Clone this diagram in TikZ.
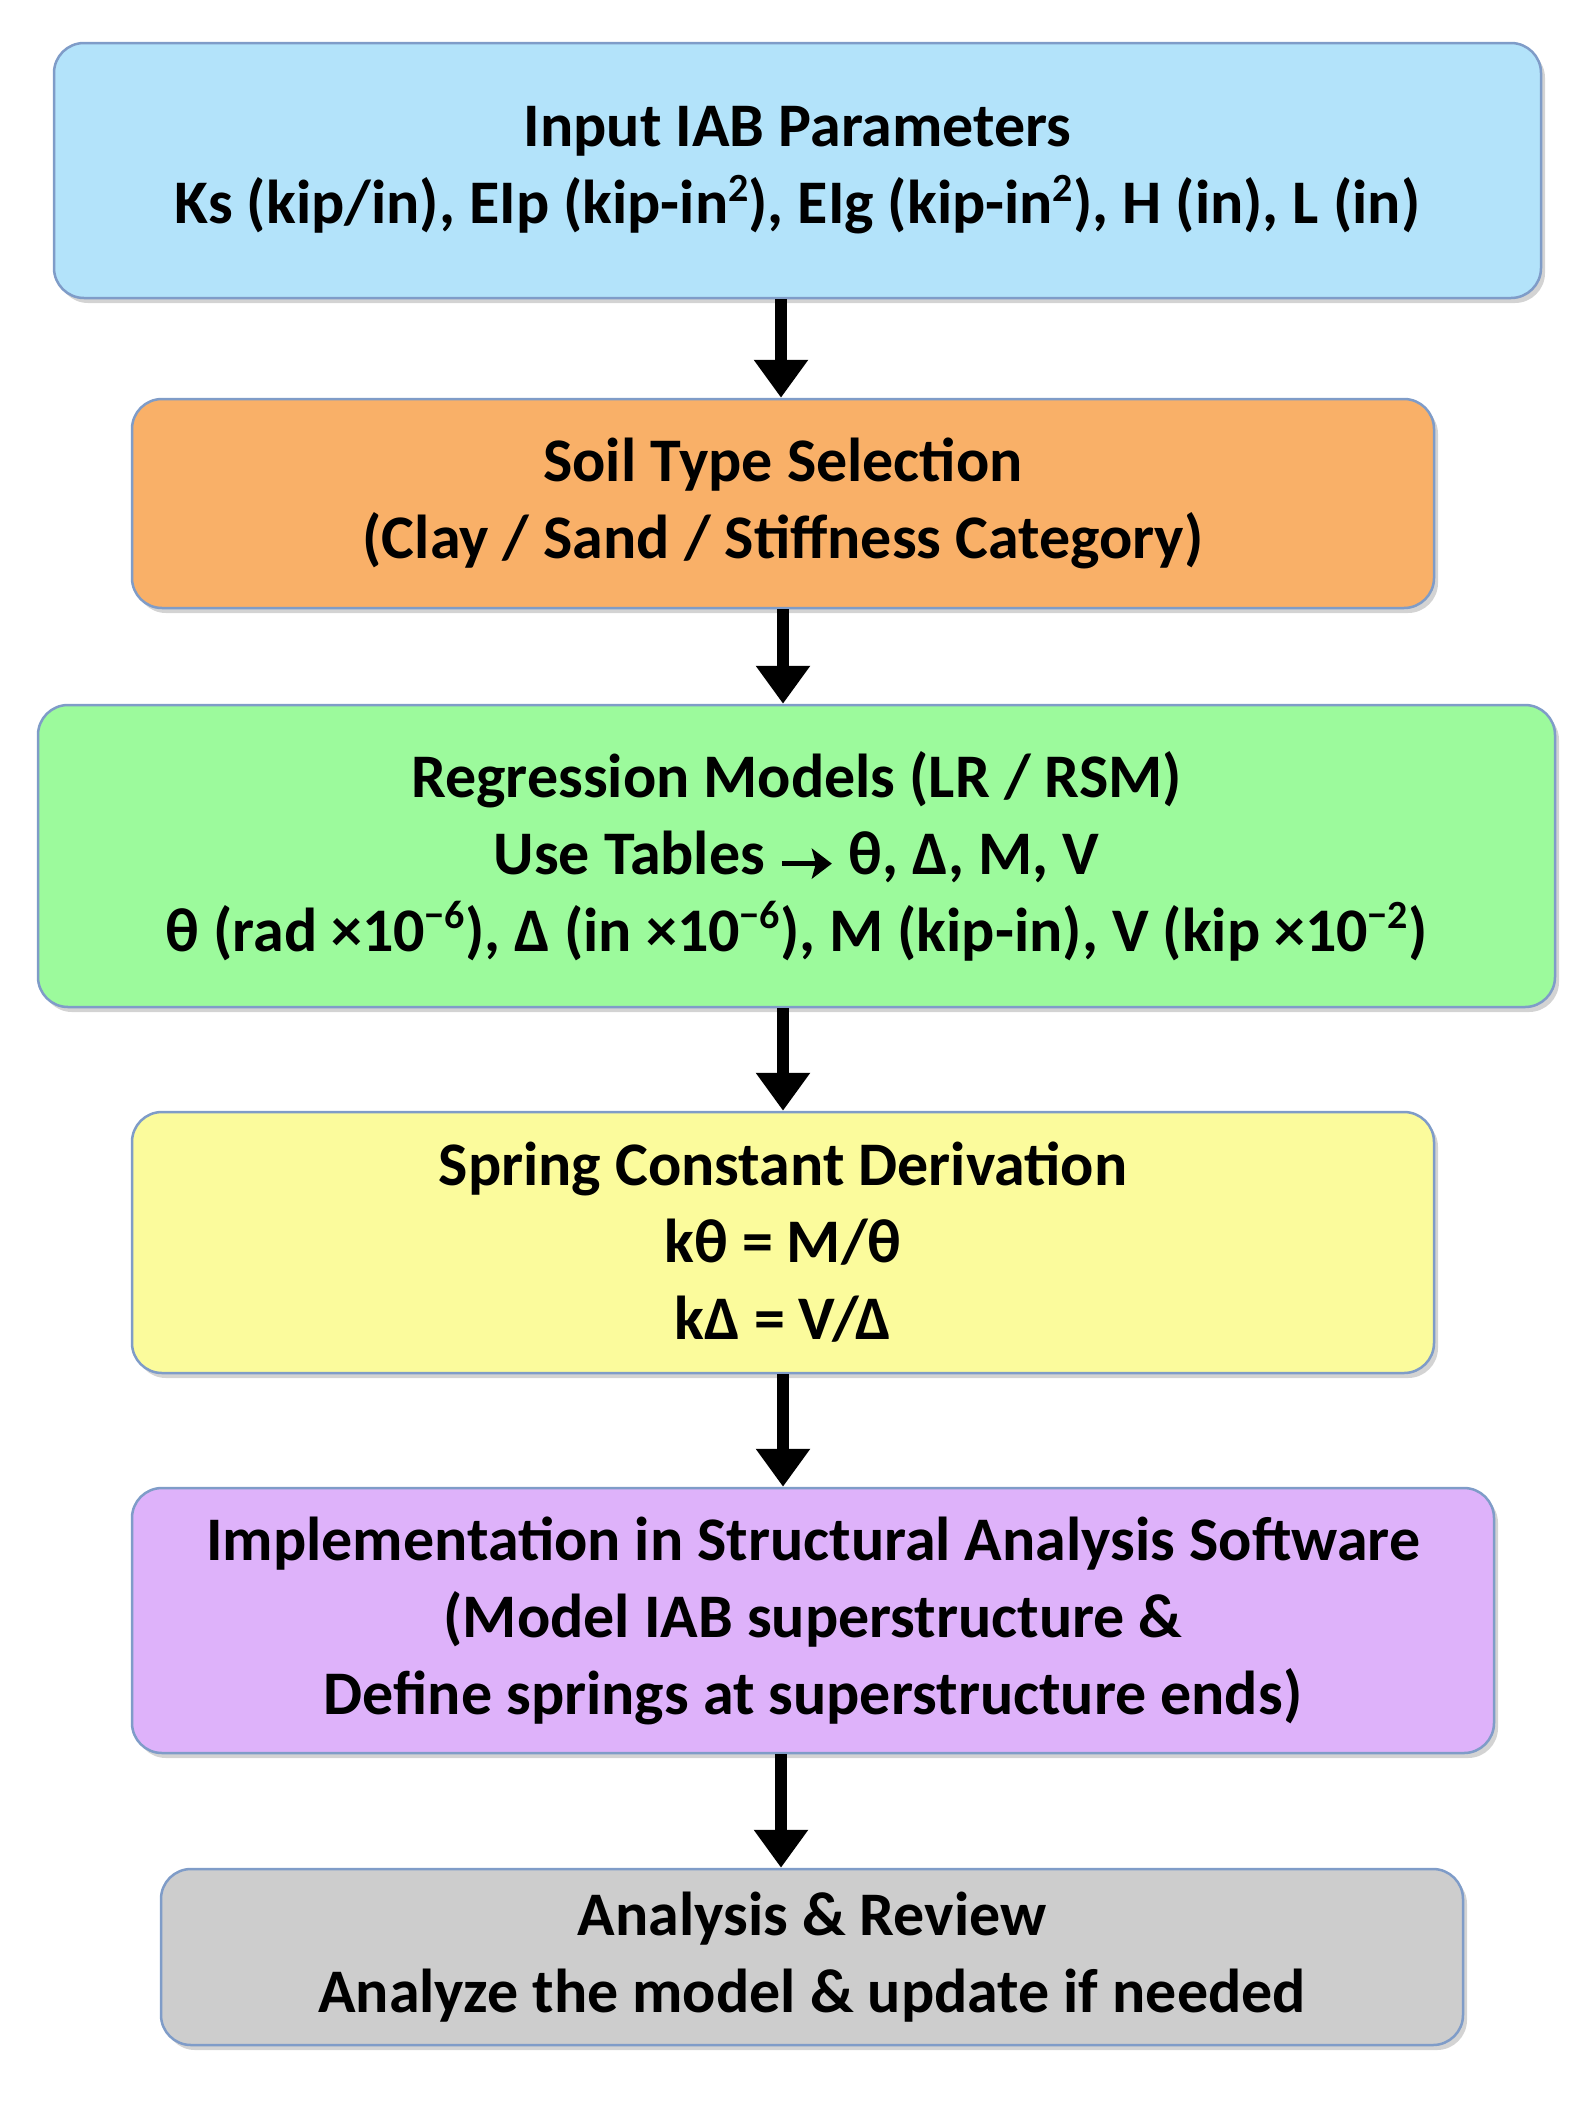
\documentclass[tikz,border=0pt]{standalone}
\usepackage{fontspec}
\setmainfont{Carlito}
\usetikzlibrary{arrows.meta,shadows}
\definecolor{cb}{HTML}{B3E3FA}
\definecolor{co}{HTML}{F9B068}
\definecolor{cg}{HTML}{9CFA9C}
\definecolor{cy}{HTML}{FBFB9C}
\definecolor{cp}{HTML}{DEB2FA}
\definecolor{cgr}{HTML}{CDCDCD}
\definecolor{edge}{HTML}{7F9CC8}
\newcommand{\sups}[1]{\raisebox{0.75ex}{\fontsize{40}{40}\selectfont #1}}
\begin{document}
\begin{tikzpicture}[x=1pt,y=-1pt,
 box/.style={draw=edge,line width=2.5pt,rounded corners=30pt,align=center,
   font=\fontsize{62}{77}\selectfont\bfseries,inner sep=0pt,
   drop shadow={shadow xshift=4pt,shadow yshift=-5pt,opacity=0.35}},
 arr/.style={-{Triangle[length=38pt,width=52pt]},line width=12pt,black}]
\useasboundingbox (0,0) rectangle (1591,2107);
\node[box,fill=cb,minimum width=1487pt,minimum height=255pt] (a) at (797.5,170.5)
 {Input IAB Parameters\\Ks (kip/in), EIp (kip-in\sups{2}), EIg (kip-in\sups{2}), H (in), L (in)};
\node[box,fill=co,minimum width=1302pt,minimum height=209pt] (b) at (783,503.5)
 {Soil Type Selection\\(Clay / Sand / Stiffness Category)};
\node[box,fill=cg,minimum width=1517pt,minimum height=302pt] (c) at (796.5,856)
 {Regression Models (LR / RSM)\\Use Tables \tikz[baseline=-0.35ex]\draw[-{Stealth[length=20pt,width=30pt,inset=4pt]},line width=5.5pt](0,0)--(50pt,0); θ, Δ, M, V\\θ (rad ×10\sups{−6}), Δ (in ×10\sups{−6}), M (kip-in), V (kip ×10\sups{−2})};
\node[box,fill=cy,minimum width=1302pt,minimum height=261pt] (d) at (783,1242.5)
 {Spring Constant Derivation\\kθ = M/θ\\kΔ = V/Δ};
\node[box,fill=cp,minimum width=1362pt,minimum height=265pt] (e) at (813,1620.5)
 {Implementation in Structural Analysis Software\\(Model IAB superstructure \&\\Define springs at superstructure ends)};
\node[box,fill=cgr,minimum width=1302pt,minimum height=176pt] (f) at (812,1957)
 {Analysis \& Review\\Analyze the model \& update if needed};
\draw[arr] (a.south -| 781,0) -- (b.north -| 781,0);
\draw[arr] (b.south -| 783,0) -- (c.north -| 783,0);
\draw[arr] (c.south -| 783,0) -- (d.north -| 783,0);
\draw[arr] (d.south -| 783,0) -- (e.north -| 783,0);
\draw[arr] (e.south -| 781,0) -- (f.north -| 781,0);
\end{tikzpicture}
\end{document}
